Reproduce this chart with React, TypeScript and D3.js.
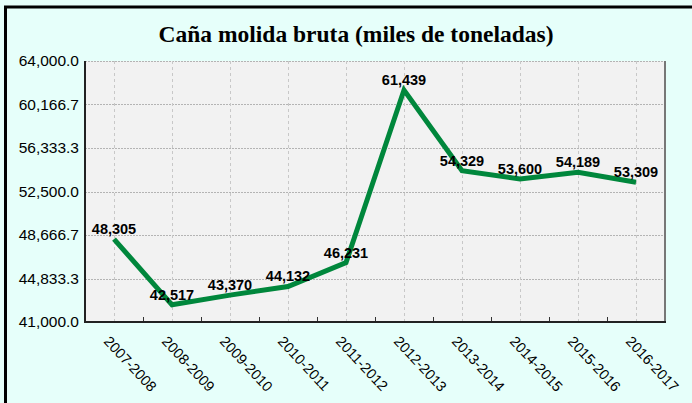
import React, { createRef, Component } from 'react';
import * as d3 from 'd3';

const seasons = ['2007-2008', '2008-2009', '2009-2010', '2010-2011', '2011-2012',
    '2012-2013', '2013-2014', '2014-2015', '2015-2016', '2016-2017'];
const cane = [48305, 42517, 43370, 44132, 46231, 61439, 54329, 53600, 54189, 53309];
const yTicks = [41000, 44833.3, 48666.7, 52500, 56333.3, 60166.7, 64000];
const title = 'Caña molida bruta (miles de toneladas)';

class CaneChart extends Component<{ width: number; height: number }> {
    ref = createRef<SVGSVGElement>();

    componentDidMount() {
        this.renderChart(this.ref.current);
    }

    renderChart(svgRef: SVGSVGElement | null) {
        const svg = d3.select(svgRef);
        const { width, height } = this.props;
        svg.selectAll('*').remove();
        svg.attr('width', width).attr('height', height);

        const m = { left: 85, top: 61, right: 665, bottom: 322 };

        const x = d3.scaleBand().domain(seasons).range([m.left, m.right]);
        const y = d3.scaleLinear().domain([41000, 64000]).range([m.bottom, m.top]);
        const cx = (d: string) => (x(d) as number) + x.bandwidth() / 2;

        // background + frame (only top/left edges fall inside the picture)
        svg.append('rect')
            .attr('width', width).attr('height', height)
            .attr('fill', '#e6fffa');
        svg.append('path')
            .attr('d', `M5.5,${height}V7H${width}`)
            .attr('fill', 'none')
            .attr('stroke', '#000').attr('stroke-width', 3);

        svg.append('text')
            .attr('x', 356).attr('y', 42)
            .attr('text-anchor', 'middle')
            .style('font-family', '"Liberation Serif", serif')
            .style('font-weight', 'bold')
            .style('font-size', '23.5px')
            .text(title);

        // plot area
        svg.append('rect')
            .attr('x', m.left).attr('y', m.top)
            .attr('width', m.right - m.left).attr('height', m.bottom - m.top)
            .attr('fill', '#f2f2f2');

        svg.append('g').selectAll('line').data(yTicks).enter().append('line')
            .attr('x1', m.left).attr('x2', m.right)
            .attr('y1', d => Math.round(y(d)) + 0.5).attr('y2', d => Math.round(y(d)) + 0.5)
            .attr('stroke', '#b4b4b4')
            .attr('stroke-dasharray', '2,1');

        svg.append('g').selectAll('line').data(seasons).enter().append('line')
            .attr('x1', d => Math.round(cx(d)) + 0.5).attr('x2', d => Math.round(cx(d)) + 0.5)
            .attr('y1', m.top).attr('y2', m.bottom)
            .attr('stroke', '#c8c8c8')
            .attr('stroke-dasharray', '3,3');

        // x ticks at band boundaries
        svg.append('g').selectAll('line').data(seasons.slice(1)).enter().append('line')
            .attr('x1', d => Math.round(x(d) as number) + 0.5).attr('x2', d => Math.round(x(d) as number) + 0.5)
            .attr('y1', m.bottom - 5).attr('y2', m.bottom)
            .attr('stroke', '#333');

        // axes / border
        svg.append('line')
            .attr('x1', m.right).attr('x2', m.right)
            .attr('y1', m.top).attr('y2', m.bottom)
            .attr('stroke', '#777').attr('stroke-width', 2);
        svg.append('line')
            .attr('x1', m.left).attr('x2', m.left)
            .attr('y1', m.top).attr('y2', m.bottom + 1)
            .attr('stroke', '#222').attr('stroke-width', 2);
        svg.append('line')
            .attr('x1', m.left).attr('x2', m.right + 1)
            .attr('y1', m.bottom).attr('y2', m.bottom)
            .attr('stroke', '#222').attr('stroke-width', 2);

        svg.append('g').selectAll('text').data(yTicks).enter().append('text')
            .attr('x', 79).attr('y', d => y(d))
            .attr('dy', '0.35em')
            .attr('text-anchor', 'end')
            .style('font-family', '"Liberation Sans", Arial, sans-serif')
            .style('font-size', '15.5px')
            .text(d => d3.format(',.1f')(d));

        svg.append('g').selectAll('text').data(seasons).enter().append('text')
            .attr('transform', d => `translate(${cx(d) - 11},${m.bottom + 20}) rotate(47)`)
            .attr('text-anchor', 'start')
            .style('font-family', '"Liberation Sans", Arial, sans-serif')
            .style('font-size', '14.5px')
            .text(d => d);

        // line
        const line = d3.line<number>()
            .x((d, i) => cx(seasons[i]))
            .y(d => y(d));
        svg.append('path')
            .datum(cane)
            .attr('d', line)
            .attr('fill', 'none')
            .attr('stroke', '#00873c')
            .attr('stroke-width', 5)
            .attr('stroke-linejoin', 'miter');

        svg.append('g').selectAll('text').data(cane).enter().append('text')
            .attr('x', (d, i) => cx(seasons[i]))
            .attr('y', d => y(d) - 5)
            .attr('text-anchor', 'middle')
            .style('font-family', '"Liberation Sans", Arial, sans-serif')
            .style('font-weight', 'bold')
            .style('font-size', '14.5px')
            .text(d => d3.format(',')(d));
    }

    render() {
        return <svg ref={this.ref} style={{ display: 'block', position: 'absolute', left: 0, top: 0 }} />;
    }
}

export default function App() {
    return <CaneChart width={692} height={403} />;
}
